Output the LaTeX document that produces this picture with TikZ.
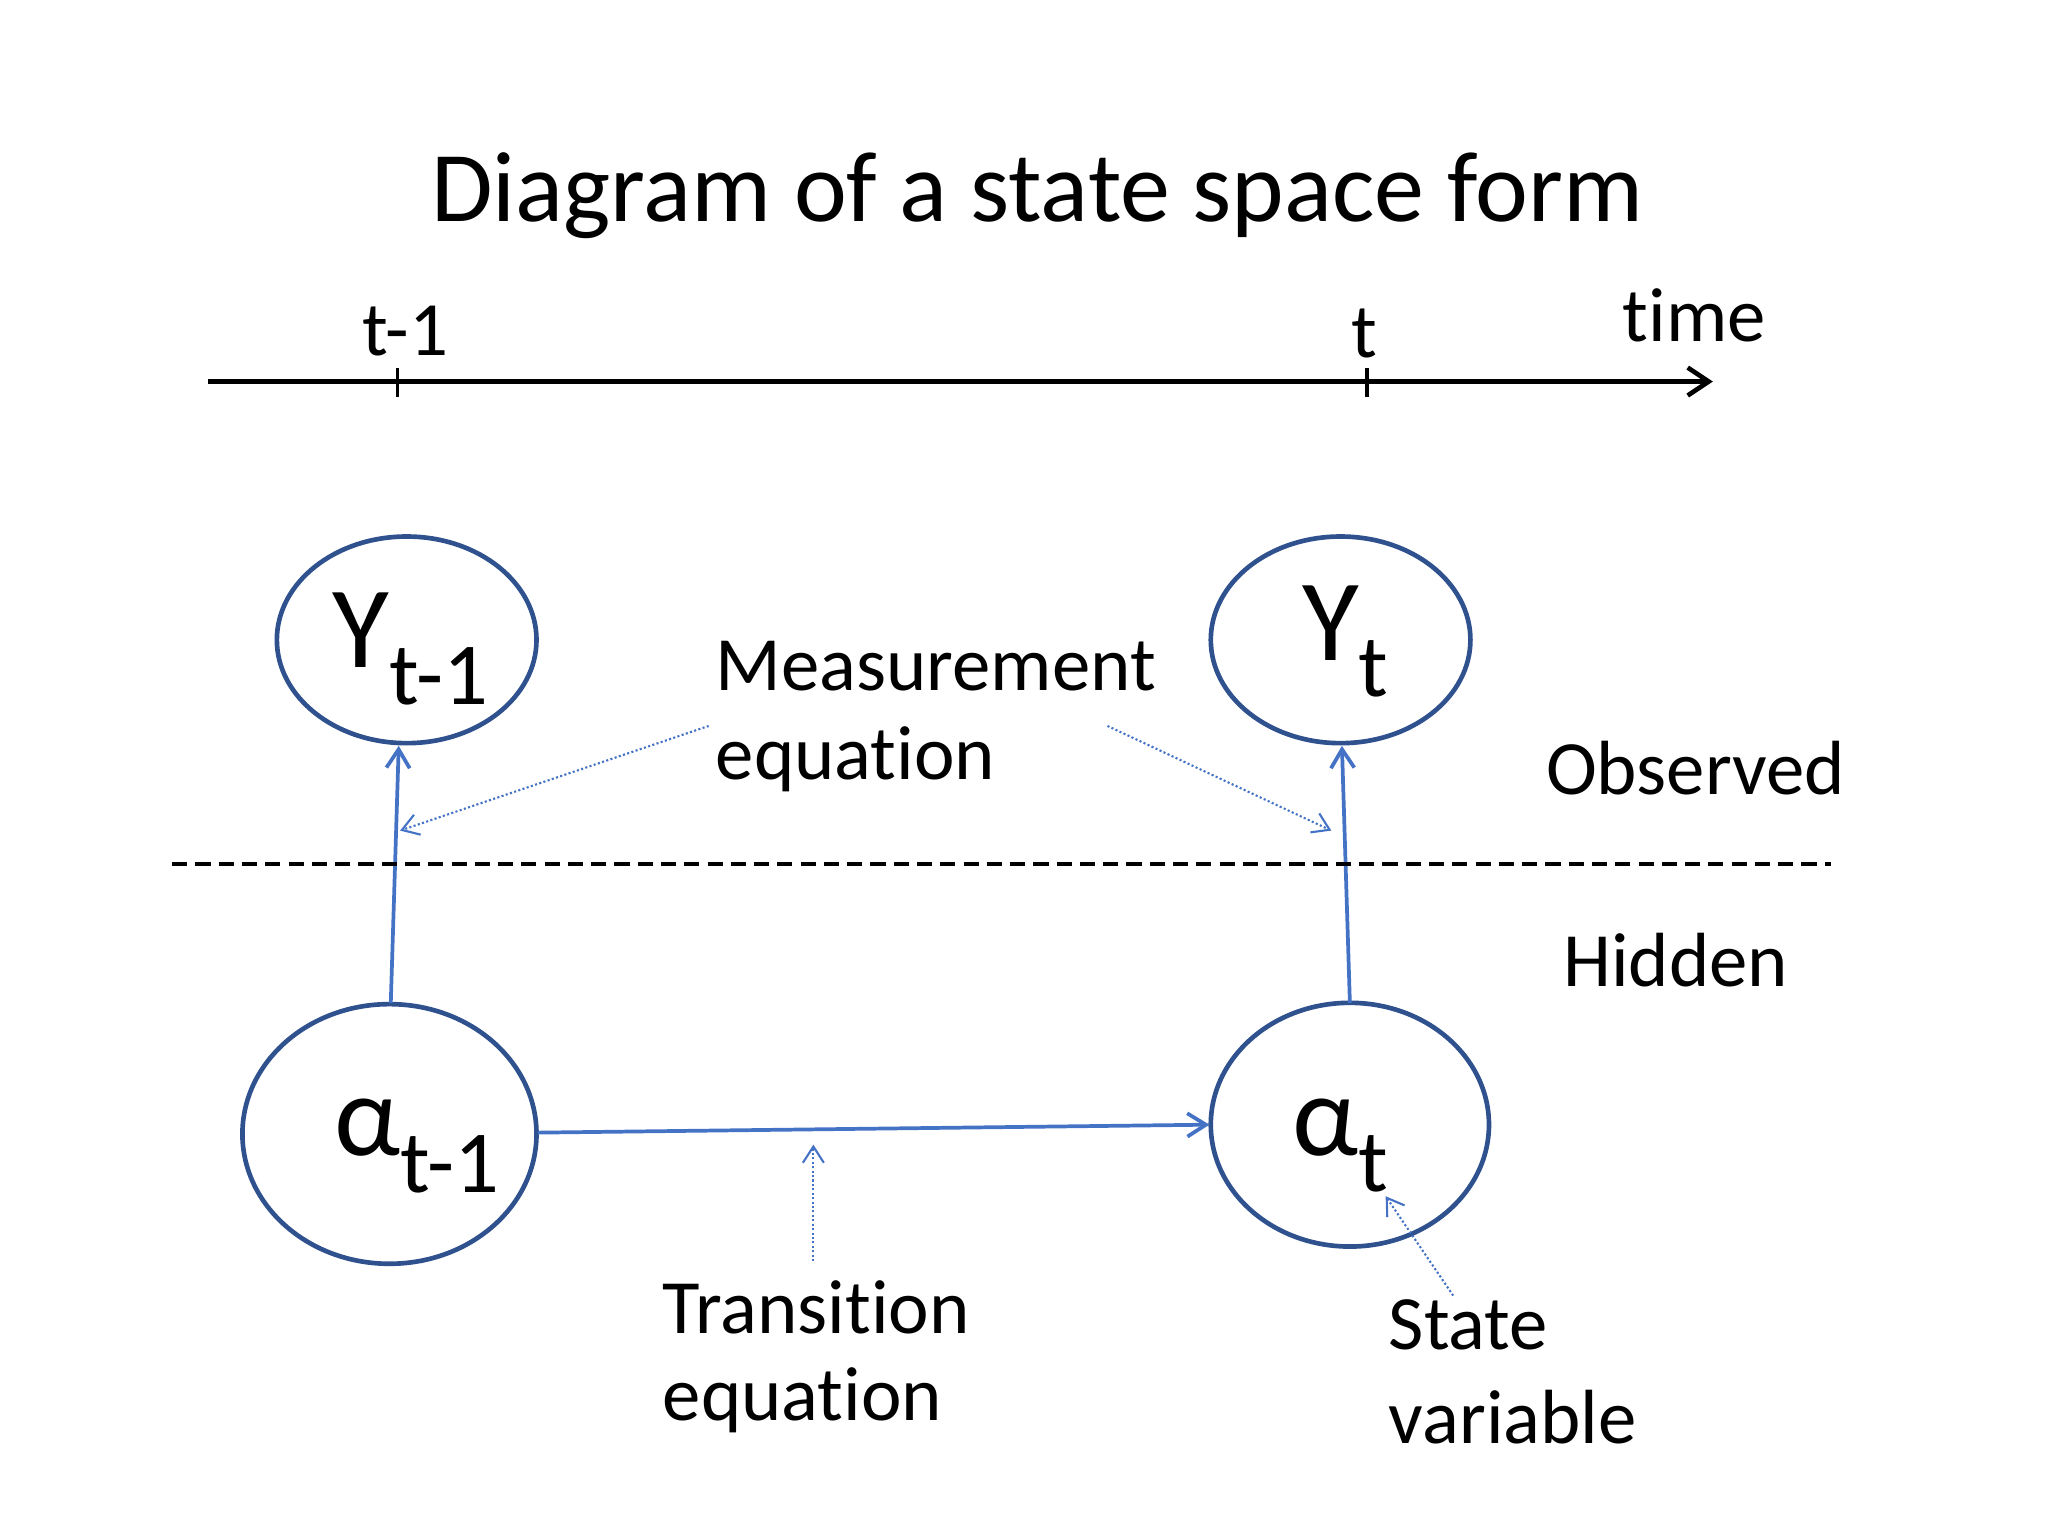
\documentclass[tikz,border=0pt]{standalone}
\usepackage{fontspec}
\setmainfont[Ligatures=NoCommon]{Carlito}
\usetikzlibrary{arrows.meta}
\definecolor{ell}{HTML}{2F528F}
\definecolor{arr}{HTML}{4472C4}
\tikzset{
  tx/.style={font=\fontsize{33}{40}\selectfont,inner sep=0pt},
  big/.style={font=\fontsize{50}{60}\selectfont,inner sep=0pt},
  ellp/.style={draw=ell,line width=2pt},
  link/.style={draw=arr,line width=1.6pt,-{Straight Barb[length=8pt,width=10pt]}},
  note/.style={draw=arr,densely dotted,line width=0.9pt,-{Straight Barb[length=7pt,width=9pt]}}
}
\begin{document}
\begin{tikzpicture}[x=0.02cm,y=-0.02cm]
\useasboundingbox (0,0) rectangle (1546,1160);
\node[font=\fontsize{43}{52}\selectfont,inner sep=0pt] (title) at (783,148) {Diagram of a state space form};
% time axis
\coordinate (a0) at (157,288); \coordinate (a1) at (1293,288);
\draw[line width=2pt,-{Straight Barb[length=9pt,width=12pt]}] (a0) -- (a1);
\coordinate (k1) at (300,278); \coordinate (k1b) at (300,300);
\coordinate (k2) at (1032,278); \coordinate (k2b) at (1032,300);
\draw[line width=1.6pt] (k1) -- (k1b) (k2) -- (k2b);
\node[tx] (lt1) at (306,250) {t-1};
\node[tx] (lt) at (1030,252) {t};
\node[tx] (ltime) at (1279,238) {time};
% ellipses
\draw[ellp] (307,483) ellipse [x radius=98,y radius=78];
\draw[ellp] (1012,483) ellipse [x radius=98,y radius=78];
\draw[ellp] (294,856) ellipse [x radius=111,y radius=98];
\draw[ellp] (1019,849) ellipse [x radius=105,y radius=92];
\node[big] (y1) at (310,490) {Y\textsubscript{\fontsize{38}{46}\selectfont t-1}};
\node[big] (y2) at (1016,484) {Y\textsubscript{\fontsize{38}{46}\selectfont t}};
\node[big] (x1) at (315,865) {α\textsubscript{\fontsize{38}{46}\selectfont t-1}};
\node[big] (x2) at (1012,865) {α\textsubscript{\fontsize{38}{46}\selectfont t}};
% arrows
\coordinate (p1) at (295,757); \coordinate (q1) at (301,563);
\coordinate (p2) at (1019,757); \coordinate (q2) at (1013,563);
\coordinate (p3) at (406,855); \coordinate (q3) at (913,849);
\draw[link] (p1) -- (q1);
\draw[link] (p2) -- (q2);
\draw[link] (p3) -- (q3);
% dashed line
\coordinate (d0) at (130,652); \coordinate (d1) at (1382,652);
\draw[line width=1.6pt,dash pattern=on 6.5pt off 3.5pt] (d0) -- (d1);
% labels
\node[tx,anchor=west] (m1) at (540,503) {Measurement};
\node[tx,anchor=west] (m2) at (540,573) {equation};
\node[tx] (obs) at (1280,580) {Observed};
\node[tx] (hid) at (1265,725) {Hidden};
\node[tx,anchor=west] (tr1) at (500,987) {Transition};
\node[tx,anchor=west] (tr2) at (500,1057) {equation};
\node[tx,anchor=west] (sv1) at (1048,1000) {State};
\node[tx,anchor=west] (sv2) at (1048,1070) {variable};
% dotted notes
\coordinate (n1) at (535,548); \coordinate (e1) at (302,627);
\coordinate (n2) at (836,548); \coordinate (e2) at (1005,627);
\coordinate (n3) at (614,952); \coordinate (e3) at (614,864);
\coordinate (n4) at (1097,978); \coordinate (e4) at (1046,903);
\draw[note] (n1) -- (e1);
\draw[note] (n2) -- (e2);
\draw[note] (n3) -- (e3);
\draw[note] (n4) -- (e4);
\end{tikzpicture}
\end{document}
